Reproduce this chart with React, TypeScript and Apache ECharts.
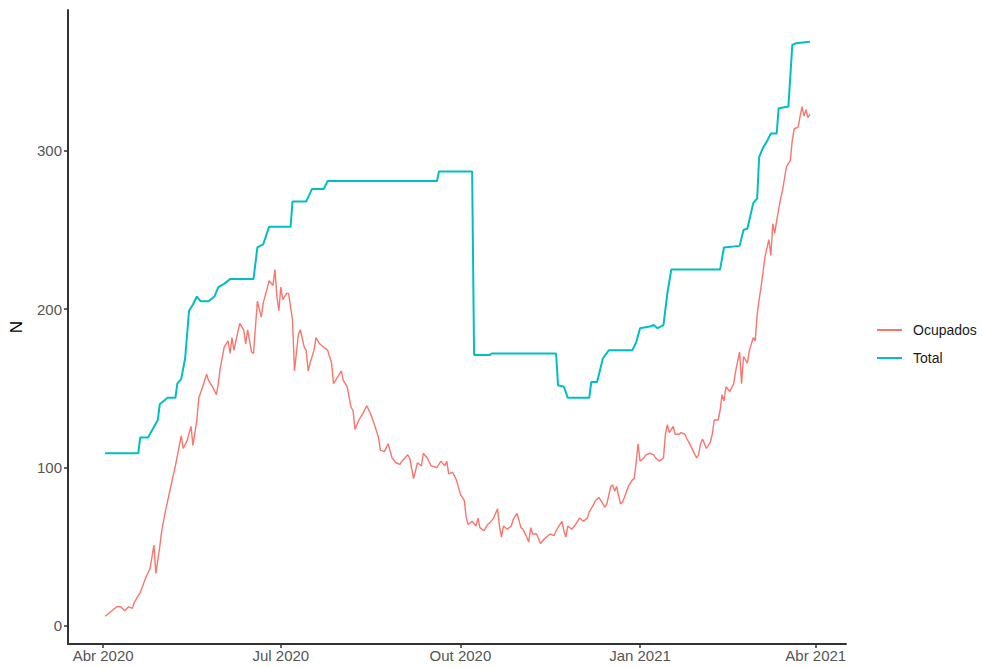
import React, { useEffect, useRef } from "react";
import * as echarts from "echarts";

// Day offsets counted from 2020-04-01
const ocupDays = [1, 2, 5, 7, 9, 11, 13, 15, 16, 19, 22, 24, 26, 27, 29, 30, 32, 35, 37, 40, 41, 43, 45, 46, 48, 49, 51, 53, 54, 56, 58, 59, 60, 62, 64, 65, 66, 67, 68, 70, 72, 73, 74, 76, 77, 79, 81, 82, 84, 85, 87, 88, 89, 90, 91, 92, 94, 95, 97, 98, 100, 101, 103, 104, 105, 106, 108, 109, 111, 113, 115, 117, 118, 120, 122, 123, 125, 127, 128, 129, 131, 133, 135, 137, 139, 141, 142, 144, 146, 148, 150, 152, 153, 156, 157, 159, 161, 163, 164, 166, 168, 171, 173, 175, 176, 177, 179, 181, 183, 185, 186, 187, 189, 191, 192, 193, 195, 197, 198, 200, 202, 203, 204, 205, 207, 209, 210, 212, 214, 215, 217, 218, 219, 220, 222, 223, 224, 226, 227, 229, 231, 232, 234, 235, 236, 237, 238, 240, 242, 243, 244, 246, 248, 249, 251, 252, 254, 255, 257, 258, 260, 261, 262, 263, 265, 266, 267, 269, 271, 272, 273, 274, 275, 277, 278, 280, 282, 283, 285, 287, 288, 289, 290, 292, 293, 295, 296, 298, 299, 300, 302, 304, 305, 306, 307, 309, 311, 312, 313, 315, 316, 317, 318, 319, 321, 323, 324, 326, 327, 328, 330, 331, 333, 334, 335, 336, 337, 339, 341, 342, 343, 344, 345, 347, 348, 350, 352, 353, 354, 356, 357, 358, 359, 360, 361, 362];
const ocupValues = [6, 7, 10, 12, 12, 9.5, 12, 11, 15, 21, 31, 36, 51, 33, 50, 60, 73, 90, 101, 120, 112, 117, 126, 114, 130, 144, 151, 159, 155, 151, 146, 153, 163, 176, 180, 172, 182, 174, 180, 191, 187, 178, 187, 173, 172, 205, 195, 204, 213, 218, 215, 225, 208, 199, 214, 206, 210, 210, 193, 161, 184, 187, 176, 174, 161, 166, 174, 182, 178, 176, 174, 166, 153, 157, 161, 155, 151, 138, 136, 124, 130, 134, 139, 134, 127, 119, 111, 110, 115, 106, 103, 102, 104, 108, 106, 93, 103, 101, 109, 106, 101, 100, 104, 101, 104, 96, 97, 92, 83, 79, 68, 64, 66, 63, 68, 62, 60, 64, 65, 68, 74, 63, 56, 63, 61, 63, 67, 71, 62, 61, 56, 53, 62, 58, 58, 55, 52, 55, 56, 58, 57, 60, 64, 66, 60, 56, 63, 61, 64, 66, 68, 66, 68, 72, 76, 79, 81, 79, 75, 77, 88, 89, 85, 88, 77, 78, 81, 88, 92, 93, 103, 115, 104, 106, 108, 109, 108, 106, 104, 106, 121, 127, 122, 126, 121, 121, 122, 121, 118, 116, 111, 106, 108, 115, 118, 112, 116, 121, 130, 130, 136, 146, 142, 151, 148, 153, 161, 173, 153, 170, 166, 174, 182, 180, 197, 206, 214, 233, 244, 234, 254, 248, 256, 270, 275, 290, 294, 307, 314, 315, 322, 328, 322, 326, 321, 323];

const totalDays = [1, 18, 19, 23, 28, 29, 33, 37, 38, 40, 42, 44, 46, 48, 50, 54, 57, 59, 62, 65, 77, 79, 82, 85, 96, 97, 104, 107, 113, 115, 171, 172, 189, 190, 198, 199, 232, 233, 236, 238, 249, 250, 253, 256, 259, 271, 273, 275, 280, 282, 284, 287, 289, 291, 316, 318, 326, 328, 330, 333, 335, 336, 338, 340, 342, 345, 346, 351, 353, 355, 362];
const totalValues = [109, 109, 119, 119, 130, 140, 144, 144, 153, 156, 169, 199, 203, 208, 205, 205, 208, 214, 216, 219, 219, 239, 241, 252, 252, 268, 268, 276, 276, 281, 281, 287, 287, 171, 171, 172, 172, 152, 151, 144, 144, 154, 154, 169, 174, 174, 179, 188, 189, 190, 188, 190, 210, 225, 225, 239, 240, 250, 251, 267, 270, 296, 302, 306, 311, 311, 327, 328, 367, 368, 369];

// Tick positions: day offsets of 1 Apr 2020, 1 Jul 2020, 1 Oct 2020, 1 Jan 2021, 1 Apr 2021
const xTickDays = [0, 91, 183, 275, 365];
const xTickLabels = ["Abr 2020", "Jul 2020", "Out 2020", "Jan 2021", "Abr 2021"];
const yTicks = [0, 100, 200, 300];

export default function App() {
  const ref = useRef<HTMLDivElement>(null);
  useEffect(() => {
    if (!ref.current) return;
    const chart = echarts.init(ref.current, null, { renderer: "svg" });
    const axisColor = "#333333";
    const labelColor = "#555555";
    const font = "'Liberation Sans', Arial, sans-serif";
    chart.setOption({
      animation: false,
      backgroundColor: "#ffffff",
      textStyle: { fontFamily: font },
      grid: { left: 67, right: 137, top: 10, bottom: 23, containLabel: false },
      legend: {
        data: ["Ocupados", "Total"],
        orient: "vertical",
        left: 872,
        top: 318,
        icon: "rect",
        itemWidth: 25,
        itemHeight: 2,
        itemGap: 14,
        textStyle: { fontSize: 14, color: "#1a1a1a", fontFamily: font, padding: [0, 0, 0, 6] },
      },
      xAxis: {
        type: "value",
        min: -18,
        max: 380.5,
        splitLine: { show: false },
        axisLine: { show: true, onZero: false, lineStyle: { color: axisColor, width: 2 } },
        axisTick: {
          show: true,
          length: 4,
          customValues: xTickDays,
          lineStyle: { color: axisColor, width: 1.5 },
        },
        axisLabel: {
          customValues: xTickDays,
          color: labelColor,
          fontSize: 15,
          margin: 4,
          fontFamily: font,
          formatter: (v: number) => {
            const i = xTickDays.indexOf(Math.round(v));
            return i >= 0 ? xTickLabels[i] : "";
          },
        },
      },
      yAxis: {
        type: "value",
        min: -11.5,
        max: 389,
        name: "N",
        nameLocation: "middle",
        nameGap: 43,
        nameRotate: 90,
        nameTextStyle: { fontSize: 17, color: "#000000", fontFamily: font },
        splitLine: { show: false },
        axisLine: { show: true, onZero: false, lineStyle: { color: axisColor, width: 2 } },
        axisTick: {
          show: true,
          length: 4,
          customValues: yTicks,
          lineStyle: { color: axisColor, width: 1.5 },
        },
        axisLabel: {
          customValues: yTicks,
          color: labelColor,
          fontSize: 15,
          margin: 6,
          fontFamily: font,
        },
      },
      series: [
        {
          name: "Ocupados",
          type: "line",
          showSymbol: false,
          symbol: "none",
          color: "#F8766D",
          lineStyle: { color: "#F8766D", width: 1.4 },
          data: ocupDays.map((d, i) => [d, ocupValues[i]]),
        },
        {
          name: "Total",
          type: "line",
          showSymbol: false,
          symbol: "none",
          color: "#00BFC4",
          lineStyle: { color: "#00BFC4", width: 2 },
          data: totalDays.map((d, i) => [d, totalValues[i]]),
        },
      ],
    });
    return () => chart.dispose();
  }, []);
  return (
    <div
      ref={ref}
      style={{ position: "fixed", left: 0, top: 0, width: 983, height: 667, background: "#fff" }}
    />
  );
}
